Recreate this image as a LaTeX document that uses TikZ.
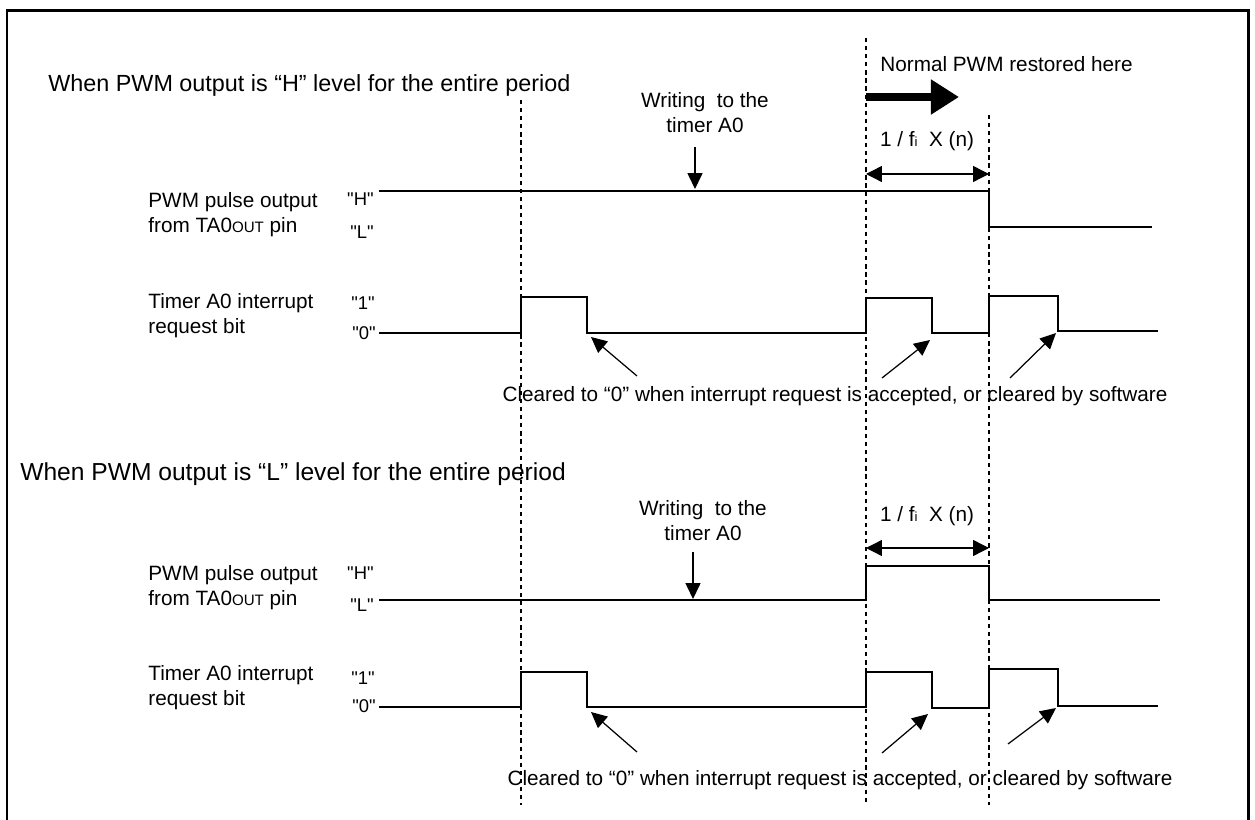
\documentclass[tikz,border=0pt]{standalone}
\usepackage{fontspec}
\setmainfont{Liberation Sans}
\newfontfamily\plainfont{Liberation Sans}[Ligatures=TeXOff]
\usetikzlibrary{arrows.meta}
\newcommand{\qlv}[1]{{\plainfont "#1"}}
\newcommand{\smcaps}[1]{{\fontsize{8.6}{9}\selectfont #1}}
\begin{document}
\begin{tikzpicture}[x=0.02cm,y=-0.02cm,
 sig/.style={line width=1.4pt},
 guide/.style={line width=0.6pt, dash pattern=on 2.4pt off 2.2pt},
 lbl/.style={font=\fontsize{11.8}{14.2}\selectfont, inner sep=0pt},
 ttl/.style={font=\fontsize{13.3}{15}\selectfont, inner sep=0pt},
 ttlb/.style={font=\fontsize{14}{16}\selectfont, inner sep=0pt},
 lv/.style={font=\fontsize{10.5}{11}\selectfont, inner sep=0pt},
 ptr/.style={-{Triangle[length=9pt,width=8.5pt]}, line width=0.7pt},
 dim/.style={{Triangle[length=9pt,width=9pt]}-{Triangle[length=9pt,width=9pt]}, line width=0.8pt},
 big/.style={-{Triangle[length=16pt,width=19pt]}, line width=4pt}]
\useasboundingbox (0,0) rectangle (1255,820);
\draw[line width=1.7pt] (7,822) -- (7,11) -- (1248,11) -- (1248,822);

% guides
\draw[guide] (521,100) -- (521,805);
\draw[guide] (866,38) -- (866,805);
\draw[guide] (989,115) -- (989,805);

% ---------- top panel ----------
\node[ttl, anchor=west] (t1) at (48,85) {When PWM output is “H” level for the entire period};
\node[lbl, align=center] (w1) at (705,113) {Writing \ to the\\timer A0};
\coordinate (w1a) at (695,147);
\coordinate (w1b) at (695,189);
\draw[ptr] (w1a) -- (w1b);

\node[lbl, anchor=west] (n1) at (880,64) {Normal PWM restored here};
\coordinate (b1a) at (866,97);
\coordinate (b1b) at (959,97);
\draw[big] (b1a) -- (b1b);

\node[lbl] (d1) at (927,141) {1 / f{\fontsize{7.5}{8}\selectfont i} \ X (n)};
\coordinate (d1a) at (866,174);
\coordinate (d1b) at (989,174);
\draw[dim] (d1a) -- (d1b);

\node[lbl, anchor=west, align=left] (p1) at (148,215) {PWM pulse output\\from TA0\smcaps{OUT} pin};
\node[lv, anchor=east] (h1) at (374,199) {\qlv{H}};
\node[lv, anchor=east] (l1) at (374,232) {\qlv{L}};
\draw[sig] (379,191) -- (989,191) -- (989,227) -- (1152,227);

\node[lbl, anchor=west, align=left] (i1) at (148,316) {Timer A0 interrupt\\request bit};
\node[lv, anchor=east] (o1) at (375,303) {\qlv{1}};
\node[lv, anchor=east] (z1) at (376,333) {\qlv{0}};
\draw[sig] (379,333) -- (521,333) -- (521,297) -- (587,297) -- (587,333) -- (866,333) -- (866,298)
  -- (932,298) -- (932,333) -- (989,333) -- (989,296) -- (1058,296) -- (1058,331) -- (1158,331);

\coordinate (a1s) at (637,376); \coordinate (a1e) at (591,337);
\coordinate (a2s) at (882,378); \coordinate (a2e) at (930,340);
\coordinate (a3s) at (1010,378); \coordinate (a3e) at (1056,333);
\draw[ptr] (a1s) -- (a1e);
\draw[ptr] (a2s) -- (a2e);
\draw[ptr] (a3s) -- (a3e);
\node[lbl] (c1) at (835,396) {Cleared to “0” when interrupt request is accepted, or cleared by software};

% ---------- bottom panel ----------
\node[ttlb, anchor=west] (t2) at (20,474) {When PWM output is “L” level for the entire period};
\node[lbl, align=center] (w2) at (703,521) {Writing \ to the\\timer A0};
\coordinate (w2a) at (693,552);
\coordinate (w2b) at (693,599);
\draw[ptr] (w2a) -- (w2b);

\node[lbl] (d2) at (927,516) {1 / f{\fontsize{7.5}{8}\selectfont i} \ X (n)};
\coordinate (d2a) at (866,548);
\coordinate (d2b) at (989,548);
\draw[dim] (d2a) -- (d2b);

\node[lbl, anchor=west, align=left] (p2) at (148,588) {PWM pulse output\\from TA0\smcaps{OUT} pin};
\node[lv, anchor=east] (h2) at (374,573) {\qlv{H}};
\node[lv, anchor=east] (l2) at (374,605) {\qlv{L}};
\draw[sig] (379,600) -- (866,600) -- (866,566) -- (989,566) -- (989,600) -- (1160,600);

\node[lbl, anchor=west, align=left] (i2) at (148,688) {Timer A0 interrupt\\request bit};
\node[lv, anchor=east] (o2) at (375,678) {\qlv{1}};
\node[lv, anchor=east] (z2) at (376,706) {\qlv{0}};
\draw[sig] (379,707) -- (521,707) -- (521,672) -- (587,672) -- (587,707) -- (866,707) -- (866,672)
  -- (932,672) -- (932,708) -- (989,708) -- (989,669) -- (1058,669) -- (1058,706) -- (1158,706);

\coordinate (a4s) at (637,752); \coordinate (a4e) at (591,712);
\coordinate (a5s) at (882,753); \coordinate (a5e) at (928,714);
\coordinate (a6s) at (1008,744); \coordinate (a6e) at (1056,708);
\draw[ptr] (a4s) -- (a4e);
\draw[ptr] (a5s) -- (a5e);
\draw[ptr] (a6s) -- (a6e);
\node[lbl] (c2) at (840,780) {Cleared to “0” when interrupt request is accepted, or cleared by software};
\end{tikzpicture}
\end{document}
